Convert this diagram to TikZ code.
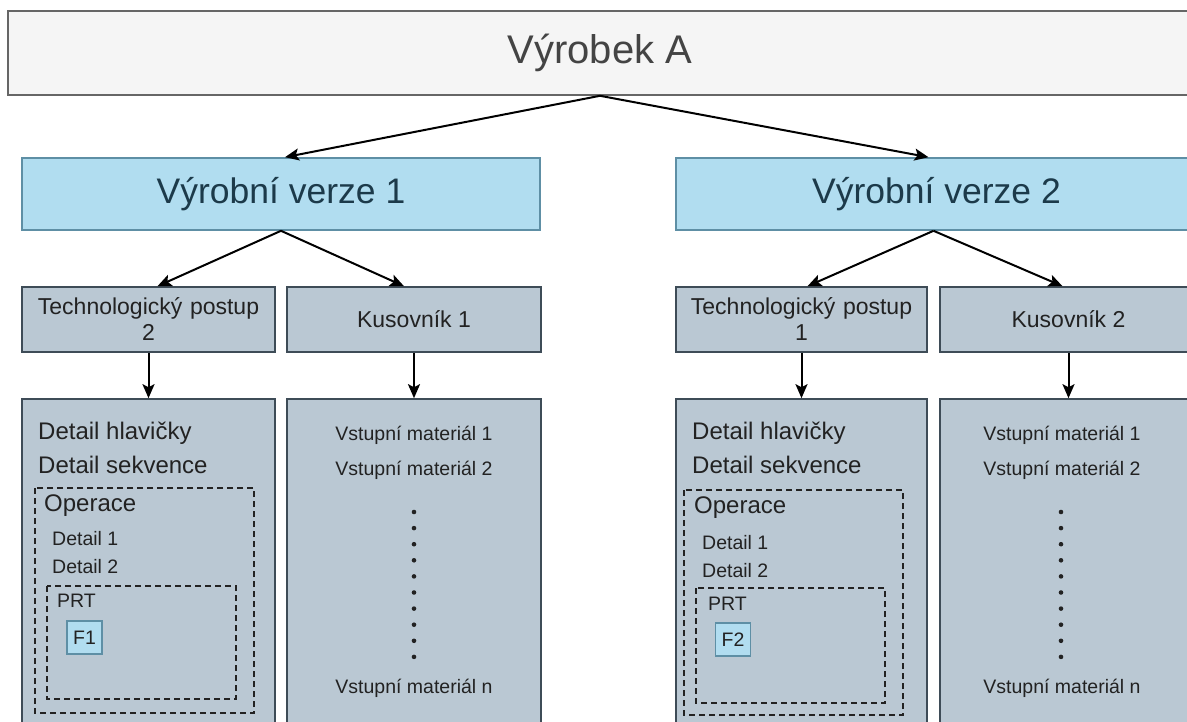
\documentclass[tikz,border=0pt]{standalone}
\usepackage{fontspec}
\setmainfont{Liberation Sans}
\usetikzlibrary{arrows.meta}
\tikzset{>={Stealth[length=14pt,width=12pt,inset=3pt]}}
\definecolor{produktfill}{HTML}{F5F5F5}
\definecolor{produktline}{HTML}{666666}
\definecolor{produkttext}{HTML}{444444}
\definecolor{verzefill}{HTML}{B1DDF0}
\definecolor{verzeline}{HTML}{5E8FA5}
\definecolor{verzetext}{HTML}{1C3A4A}
\definecolor{blokfill}{HTML}{BAC8D3}
\definecolor{blokline}{HTML}{3E4C57}
\definecolor{bloktext}{HTML}{222222}

\begin{document}
\begin{tikzpicture}[x=1pt,y=-1pt,
  produkt/.style={draw=produktline, fill=produktfill, line width=1.6pt, text=produkttext,
    font=\fontsize{40}{48}\selectfont, minimum height=84pt, minimum width=1184pt},
  verze/.style={draw=verzeline, fill=verzefill, line width=1.6pt, text=verzetext,
    font=\fontsize{35.5}{42}\selectfont, minimum height=72pt},
  blok/.style={draw=blokline, fill=blokfill, line width=1.6pt, text=bloktext, inner sep=2pt,
    font=\fontsize{23}{26}\selectfont, minimum height=65pt, align=center},
  obsah/.style={draw=blokline, fill=blokfill, line width=1.6pt, minimum height=341pt},
  ramec/.style={draw=bloktext, line width=2.2pt, dash pattern=on 6pt off 4pt},
  polozka/.style={anchor=west, inner sep=0pt, text=bloktext, font=\fontsize{24}{28}\selectfont},
  mala/.style={anchor=west, inner sep=0pt, text=bloktext, font=\fontsize{19.5}{24}\selectfont},
  material/.style={inner sep=0pt, text=bloktext, font=\fontsize{19.5}{24}\selectfont},
  fbox/.style={draw=verzeline, fill=verzefill, line width=1.6pt, minimum width=35pt,
    minimum height=33pt, inner sep=0pt, text=bloktext, font=\fontsize{19.5}{24}\selectfont},
  sipka/.style={->, line width=2pt, draw=black},
]
\useasboundingbox (0,0) rectangle (1187,722);
\clip (0,0) rectangle (1187,722);
\fill[white] (0,0) rectangle (1187,722);

% horni uroven
\node[produkt] (vyrobek) at (600,53) {Výrobek A};
\node[verze, minimum width=518pt] (verze1) at (281,194) {Výrobní verze 1};
\node[verze, minimum width=521pt] (verze2) at (936.5,194) {Výrobní verze 2};

% postupy a kusovniky
\node[blok, minimum width=253pt, text width=240pt] (tp2) at (148.5,319.5) {Technologický postup\\2};
\node[blok, minimum width=254pt] (kus1) at (414,319.5) {Kusovník 1};
\node[blok, minimum width=251pt, text width=240pt] (tp1) at (801.5,319.5) {Technologický postup\\1};
\node[blok, minimum width=257pt] (kus2) at (1068.5,319.5) {Kusovník 2};

\node[obsah, minimum width=253pt] (tp2obsah) at (148.5,569.5) {};
\node[obsah, minimum width=254pt] (kus1obsah) at (414,569.5) {};
\node[obsah, minimum width=251pt] (tp1obsah) at (801.5,569.5) {};
\node[obsah, minimum width=257pt] (kus2obsah) at (1068.5,569.5) {};

% obsah postupu 2
\node[polozka] (hlav2) at (38,433) {Detail hlavičky};
\node[polozka] (sekv2) at (38,465) {Detail sekvence};
\draw[ramec] (35,488) rectangle (254,713);
\node[polozka] (oper2) at (44,506) {Operace};
\node[mala] (det2a) at (52,539) {Detail 1};
\node[mala] (det2b) at (52,567) {Detail 2};
\draw[ramec] (47,586) rectangle (236,699);
\node[mala] (prt2) at (57,601) {PRT};
\node[fbox] (f1) at (84.5,637.5) {F1};

% obsah postupu 1
\node[polozka] (hlav1) at (692,433) {Detail hlavičky};
\node[polozka] (sekv1) at (692,465) {Detail sekvence};
\draw[ramec] (684,490) rectangle (903,715);
\node[polozka] (oper1) at (694,508) {Operace};
\node[mala] (det1a) at (702,543) {Detail 1};
\node[mala] (det1b) at (702,571) {Detail 2};
\draw[ramec] (696,588) rectangle (885,703);
\node[mala] (prt1) at (708,604) {PRT};
\node[fbox] (f2) at (733,639.5) {F2};

% kusovniky
\node[material] (mat1a) at (414,435) {Vstupní materiál 1};
\node[material] (mat1b) at (414,470) {Vstupní materiál 2};
\node[material] (mat1n) at (414,688) {Vstupní materiál n};
\node[material] (mat2a) at (1062,435) {Vstupní materiál 1};
\node[material] (mat2b) at (1062,470) {Vstupní materiál 2};
\node[material] (mat2n) at (1062,688) {Vstupní materiál n};
\foreach \i in {0,...,9} {
  \fill[bloktext] (414,512+16.1*\i) circle[radius=2.3pt];
  \fill[bloktext] (1061,512+16.1*\i) circle[radius=2.3pt];
}

% sipky
\draw[sipka] (vyrobek.south) -- ([xshift=4pt]verze1.north);
\draw[sipka] (vyrobek.south) -- ([xshift=-8pt]verze2.north);
\draw[sipka] (verze1.south) -- ([xshift=9pt]tp2.north);
\draw[sipka] (verze1.south) -- ([xshift=-10pt]kus1.north);
\draw[sipka] ([xshift=-3pt]verze2.south) -- ([xshift=6pt]tp1.north);
\draw[sipka] ([xshift=-3pt]verze2.south) -- ([xshift=-6pt]kus2.north);
\draw[sipka] (tp2.south) -- (tp2obsah.north);
\draw[sipka] (kus1.south) -- (kus1obsah.north);
\draw[sipka] (tp1.south) -- (tp1obsah.north);
\draw[sipka] (kus2.south) -- (kus2obsah.north);
\end{tikzpicture}
\end{document}
